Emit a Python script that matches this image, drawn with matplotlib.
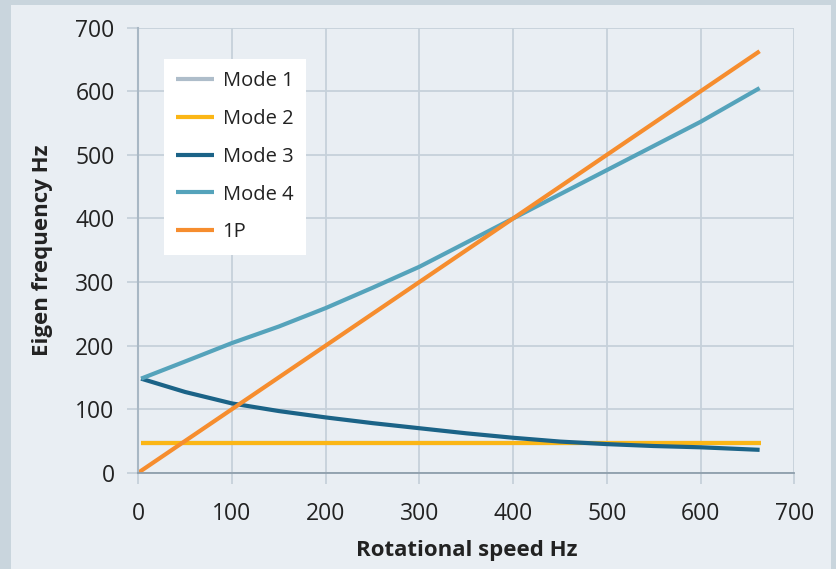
import numpy as np
import matplotlib
matplotlib.use('Agg')
import matplotlib.pyplot as plt
from matplotlib.patches import Rectangle

plt.rcParams['font.family'] = ['Open Sans', 'DejaVu Sans']

# data
speed = [3, 50, 100, 150, 200, 250, 300, 350, 400, 450, 500, 550, 600, 663]
mode3 = [148, 127, 109, 97, 87, 78, 70, 62, 55, 49, 45, 42, 40, 36]
mode4 = [148, 175, 204, 230, 259, 291, 324, 362, 400, 438, 476, 514, 552, 605]
mode12_x = [3, 665]
mode1 = [47, 47]
mode2 = [47, 47]
p1_x = [0, 663]
p1 = [0, 663]

border = '#c9d5dd'
panel = '#e9eef3'
grid_c = '#c6d1da'

fig = plt.figure(figsize=(8.36, 5.69), dpi=100, facecolor=border)
fig.patches.append(Rectangle((11 / 836, 0), 820 / 836, 564 / 569,
                             transform=fig.transFigure, facecolor=panel,
                             edgecolor='none', zorder=-10))
ax = fig.add_axes([0.1654, 0.1692, 0.7847, 0.7821])
ax.set_facecolor(panel)

ax.plot(mode12_x, mode1, color='#aebdca', lw=3, label='Mode 1', solid_capstyle='butt')
ax.plot(mode12_x, mode2, color='#fbb616', lw=3, label='Mode 2', solid_capstyle='butt')
ax.plot(speed, mode3, color='#1b6387', lw=3, label='Mode 3', solid_capstyle='butt')
ax.plot(speed, mode4, color='#55a3bb', lw=3, label='Mode 4', solid_capstyle='butt')
ax.plot(p1_x, p1, color='#f68d2e', lw=3, label='1P', solid_capstyle='butt')

ax.set_xlim(0, 700)
ax.set_ylim(0, 700)
ax.set_xticks(np.arange(0, 701, 100))
ax.set_yticks(np.arange(0, 701, 100))
ax.grid(True, color=grid_c, lw=1.3)
ax.set_axisbelow(True)
for s in ['top', 'right']:
    ax.spines[s].set_visible(False)
ax.spines['left'].set_color('#a8b7c4')
ax.spines['left'].set_linewidth(1.5)
ax.spines['bottom'].set_color('#8e9eab')
ax.spines['bottom'].set_linewidth(1.3)
ax.tick_params(axis='both', length=8, width=1.3, color=grid_c,
               labelsize=16.5, labelcolor='#222222')
ax.tick_params(axis='x', pad=13)
ax.tick_params(axis='y', pad=9)

ax.set_xlabel('Rotational speed Hz', fontsize=16, fontweight='bold',
              color='#222222', labelpad=10)
ax.set_ylabel('Eigen frequency Hz', fontsize=16, fontweight='bold',
              color='#222222', labelpad=16)

leg = ax.legend(loc='upper left', bbox_to_anchor=(0.039, 0.93),
                borderaxespad=0, fontsize=14.5, frameon=True, fancybox=False,
                handlelength=1.85, handletextpad=0.45, labelspacing=0.88,
                borderpad=0.62)
leg.get_frame().set_facecolor('white')
leg.get_frame().set_edgecolor('none')
leg.get_frame().set_alpha(1)
for t in leg.get_texts():
    t.set_color('#222222')

fig.savefig('out.png', dpi=100, facecolor=fig.get_facecolor())
